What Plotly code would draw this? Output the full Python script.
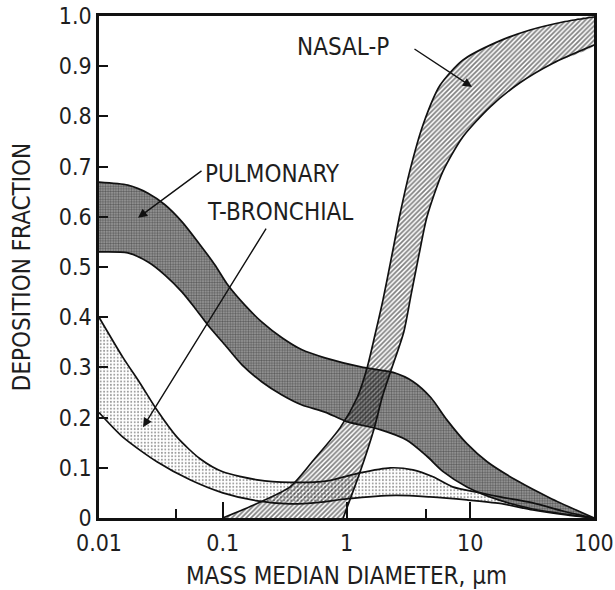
import plotly.graph_objects as go

# ---------------- data ----------------
# diameters in micrometres, deposition fractions
pul_up_x = [0.01, 0.0171, 0.0249, 0.0341, 0.0469, 0.063, 0.0865, 0.110, 0.151, 0.2075,
            0.301, 0.437, 0.67, 1.36, 2.38, 3.44, 4.8, 6.5, 9.4, 13.7, 24, 44, 100]
pul_up_y = [0.669, 0.663, 0.647, 0.624, 0.590, 0.550, 0.504, 0.464, 0.424, 0.390,
            0.359, 0.335, 0.319, 0.300, 0.290, 0.272, 0.240, 0.195, 0.148, 0.112, 0.074, 0.040, 0.0]
pul_lo_x = [0.01, 0.0171, 0.0249, 0.0341, 0.0469, 0.0597, 0.076, 0.104, 0.143, 0.2075,
            0.301, 0.437, 0.67, 1.01, 1.87, 3.08, 4.47, 6.0, 9.4, 17.4, 32, 100]
pul_lo_y = [0.530, 0.528, 0.510, 0.484, 0.450, 0.418, 0.384, 0.345, 0.305, 0.271,
            0.245, 0.225, 0.211, 0.192, 0.176, 0.155, 0.123, 0.093, 0.062, 0.035, 0.018, 0.0]

tb_up_x = [0.01, 0.0156, 0.0214, 0.0294, 0.0427, 0.0655, 0.1, 0.19, 0.35, 0.7,
           1.28, 2.26, 3.44, 5.0, 7.2, 12.1, 17.4, 32, 60, 100]
tb_up_y = [0.400, 0.320, 0.269, 0.215, 0.161, 0.118, 0.092, 0.076, 0.071, 0.074,
           0.090, 0.100, 0.096, 0.082, 0.062, 0.050, 0.042, 0.030, 0.012, 0.0]
tb_lo_x = [0.01, 0.0156, 0.0294, 0.0544, 0.1, 0.19, 0.35, 0.6, 1.0, 2.5,
           4.7, 9.4, 17.4, 32, 60, 100]
tb_lo_y = [0.210, 0.161, 0.112, 0.076, 0.050, 0.034, 0.028, 0.031, 0.038, 0.045,
           0.042, 0.036, 0.029, 0.016, 0.006, 0.0]

nas_up_x = [0.1, 0.178, 0.35, 0.54, 0.89, 1.22, 1.47, 1.7, 1.97, 2.33, 2.7, 3.26,
            4.15, 5.7, 8.7, 16.4, 30.4, 56, 100]
nas_up_y = [0.0, 0.026, 0.062, 0.115, 0.180, 0.240, 0.300, 0.365, 0.434, 0.524, 0.604, 0.693,
            0.783, 0.862, 0.912, 0.948, 0.972, 0.988, 0.998]
nas_lo_x = [0.94, 1.28, 1.68, 1.94, 2.26, 2.9, 3.32, 3.85, 4.47, 6.0, 8.7, 14.5, 25.2, 46.6, 100]
nas_lo_y = [0.0, 0.090, 0.180, 0.240, 0.290, 0.370, 0.444, 0.524, 0.600, 0.690, 0.759, 0.819,
            0.867, 0.906, 0.942]

x_tick_vals = [0.01, 0.1, 1, 10, 100]
x_tick_text = ["0.01", "0.1", "1", "10", "100"]
x_minor_vals = [0.042, 4.4]
y_tick_vals = [round(i * 0.1, 1) for i in range(11)]
y_tick_text = ["0", "0.1", "0.2", "0.3", "0.4", "0.5", "0.6", "0.7", "0.8", "0.9", "1.0"]
y_long_vals = [0.2, 0.4, 0.6, 0.8]

FONT = "DejaVu Sans Condensed, Liberation Sans Narrow, sans-serif"
INK = "#1e1e1e"

fig = go.Figure()


def band(xu, yu, xl, yl, pattern, fillcolor):
    return go.Scatter(
        x=xu + xl[::-1], y=yu + yl[::-1], mode="lines", fill="toself",
        fillcolor=fillcolor, fillpattern=pattern,
        line=dict(width=0, shape="spline", smoothing=0.7),
        hoverinfo="skip", showlegend=False)


fig.add_trace(band(tb_up_x, tb_up_y, tb_lo_x, tb_lo_y,
                   dict(shape=".", fgcolor="#333333", bgcolor="white", size=3.4,
                        solidity=0.25), "white"))
fig.add_trace(band(pul_up_x, pul_up_y, pul_lo_x, pul_lo_y,
                   dict(shape=".", fgcolor="#1a1a1a", bgcolor="#a0a0a0", size=2.6,
                        solidity=0.5), "#a0a0a0"))
fig.add_trace(band(nas_up_x, nas_up_y, nas_lo_x, nas_lo_y,
                   dict(shape="/", fgcolor="#000000", bgcolor="rgba(255,255,255,0)",
                        size=3.4, solidity=0.5), "rgba(255,255,255,0)"))

for xs, ys in [(tb_up_x, tb_up_y), (tb_lo_x, tb_lo_y),
               (pul_up_x, pul_up_y), (pul_lo_x, pul_lo_y),
               (nas_up_x, nas_up_y), (nas_lo_x, nas_lo_y)]:
    fig.add_trace(go.Scatter(x=xs, y=ys, mode="lines",
                             line=dict(color="#111111", width=1.7, shape="spline", smoothing=0.7),
                             hoverinfo="skip", showlegend=False))

# labels with arrows (paper coordinates)
lab_font = dict(family=FONT, size=24, color=INK)
fig.add_annotation(text="PULMONARY", x=0.210, y=0.685, xref="paper", yref="paper",
                   xanchor="left", yanchor="middle", showarrow=False, font=lab_font)
fig.add_annotation(text="T-BRONCHIAL", x=0.214, y=0.610, xref="paper", yref="paper",
                   xanchor="left", yanchor="middle", showarrow=False, font=lab_font)
fig.add_annotation(text="NASAL-P", x=0.396, y=0.938, xref="paper", yref="paper",
                   xanchor="left", yanchor="middle", showarrow=False, font=lab_font)

arrow_kw = dict(xref="paper", yref="paper", text="", showarrow=True, arrowhead=2,
                arrowsize=1.3, arrowwidth=1.4, arrowcolor="#111", standoff=0, startstandoff=0)
fig.add_annotation(x=0.0788, y=0.598, ax=65, ay=-48, **arrow_kw)
fig.add_annotation(x=0.0889, y=0.181, ax=124, ay=-200, **arrow_kw)
fig.add_annotation(x=0.7535, y=0.8586, ax=-59, ay=-39, **arrow_kw)

tick_font = dict(family=FONT, size=23, color=INK)
title_font = dict(family=FONT, size=24, color=INK)
fig.update_layout(
    width=615, height=590,
    margin=dict(l=99, r=21, t=16, b=72, autoexpand=False),
    plot_bgcolor="white", paper_bgcolor="white",
    xaxis=dict(type="log", range=[-2, 2], tickmode="array", tickvals=x_tick_vals,
               ticktext=x_tick_text, ticks="inside", ticklen=16, tickwidth=1.5,
               tickcolor="#111", showline=True, linewidth=2.5, linecolor="#111",
               mirror=True, showgrid=False, zeroline=False, tickfont=tick_font,
               ticklabelstandoff=3, automargin=False,
               minor=dict(tickmode="array", tickvals=x_minor_vals, ticks="inside",
                          ticklen=9, tickwidth=1.5, tickcolor="#111", showgrid=False),
               title=dict(text="MASS MEDIAN DIAMETER, µm", font=title_font, standoff=12)),
    yaxis=dict(range=[0, 1], tickmode="array", tickvals=y_tick_vals, ticktext=y_tick_text,
               ticks="inside", ticklen=9, tickwidth=1.5, tickcolor="#111",
               showline=True, linewidth=2.5, linecolor="#111", mirror=True,
               showgrid=False, zeroline=False, tickfont=tick_font, ticklabelstandoff=0,
               automargin=False,
               title=dict(text="DEPOSITION FRACTION", font=title_font, standoff=22)),
    yaxis2=dict(range=[0, 1], overlaying="y", side="left", tickmode="array",
                tickvals=y_long_vals, ticks="inside", ticklen=17, tickwidth=1.5,
                tickcolor="#111", showticklabels=False, showline=False, showgrid=False,
                zeroline=False, automargin=False),
)

fig.write_html("out.html")
